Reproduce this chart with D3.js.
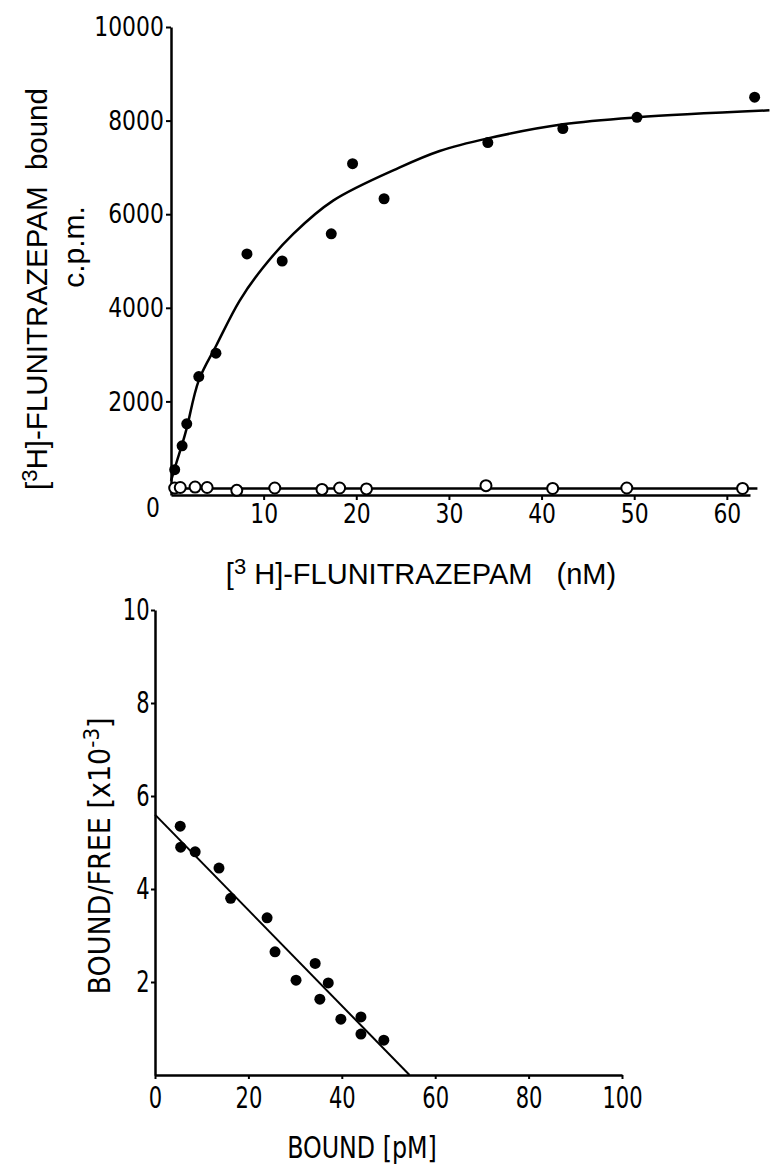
<!DOCTYPE html>
<html>
<head>
<meta charset="utf-8">
<script src="https://cdn.jsdelivr.net/npm/d3@7"></script>
<style>
  body { margin: 0; background: #fff; }
  svg { display: block; }
  text { white-space: pre; }
</style>
</head>
<body>
<div class="box"></div>
<script>
// --- top panel: saturation of [3H]-flunitrazepam binding ---
// total binding (filled dots), nM vs c.p.m.
const totalConc = [0.4, 1.2, 1.7, 3.0, 4.85, 8.2, 12.0, 17.3, 19.6, 23.0, 34.2, 42.3, 50.3, 63.0];
const totalCpm  = [540, 1050, 1520, 2530, 3030, 5150, 5000, 5580, 7080, 6330, 7530, 7830, 8070, 8500];
// hand drawn fit through the filled dots
const fitConc = [0, 0.6, 1.2, 1.7, 3.0, 4.9, 7.4, 9.9, 13.2, 17.5, 24.7, 29.0, 34.2, 42.3, 50.3, 64.6];
const fitCpm  = [300, 700, 1080, 1430, 2450, 3200, 4150, 4850, 5580, 6290, 7000, 7350, 7620, 7920, 8070, 8220];
// non specific binding (open circles)
const nsConc = [0.4, 1.0, 2.6, 3.9, 7.1, 11.2, 16.3, 18.2, 21.1, 34.0, 41.2, 49.2, 61.7];
const nsCpm  = [150, 160, 170, 160, 100, 150, 120, 150, 130, 200, 140, 150, 140];
const nsLineConc = [0, 63.3];
const nsLineCpm  = [140, 140];
const topXTicks = [10, 20, 30, 40, 50, 60];
const topYTicks = [2000, 4000, 6000, 8000, 10000];

// --- bottom panel: Scatchard plot ---
const boundPm   = [5.4, 5.5, 8.6, 13.7, 16.2, 24.0, 25.7, 30.2, 34.3, 37.1, 35.3, 39.8, 44.1, 44.1, 49.0];
const boundFree = [5.35, 4.9, 4.8, 4.45, 3.8, 3.38, 2.65, 2.04, 2.4, 1.98, 1.63, 1.2, 1.25, 0.88, 0.75];
const scatLineX = [0, 54.5];
const scatLineY = [5.6, 0];
const botXTicks = [0, 20, 40, 60, 80, 100];
const botYTicks = [2, 4, 6, 8, 10];

const w = 770;
const h = 1165;
const COND = '"DejaVu Sans Condensed", "DejaVu Sans", sans-serif';
const WIDE = '"Liberation Sans", Arial, sans-serif';

const svg = d3.select(".box")
    .append("svg")
    .attr("width", w)
    .attr("height", h);

// scales
const x1 = d3.scaleLinear().domain([0, 62.5]).range([171, 750]);
const y1 = d3.scaleLinear().domain([0, 10000]).range([495, 27]);
const x2 = d3.scaleLinear().domain([0, 100]).range([155, 622]);
const y2 = d3.scaleLinear().domain([0, 10]).range([1075, 610]);

// axis look: thick black line, narrow digits
function styleAxis(size, squeeze) {
    return function(g) {
        g.select(".domain").attr("stroke", "#000").attr("stroke-width", 2.5);
        g.selectAll(".tick line").attr("stroke", "#000").attr("stroke-width", 2);
        g.selectAll(".tick text")
            .attr("font-family", COND)
            .attr("font-size", size)
            .attr("fill", "#000")
            .attr("transform", "scale(" + squeeze + ",1)");
    };
}

// ---------- top panel ----------
svg.append("g")
    .attr("transform", "translate(0," + y1(0) + ")")
    .call(d3.axisBottom(x1).tickValues(topXTicks).tickFormat(d3.format("d"))
        .tickSize(5).tickSizeOuter(0).tickPadding(4))
    .call(styleAxis(27, 0.9));

svg.append("g")
    .attr("transform", "translate(" + x1(0) + ",0)")
    .call(d3.axisLeft(y1).tickValues(topYTicks).tickFormat(d3.format("d"))
        .tickSize(5).tickSizeOuter(0).tickPadding(3))
    .call(styleAxis(27, 0.9));

// shared origin label
svg.append("text")
    .attr("transform", "translate(" + (x1(0) - 18) + "," + (y1(0) + 22) + ") scale(0.9,1)")
    .attr("text-anchor", "middle")
    .attr("font-family", COND)
    .attr("font-size", 27)
    .text("0");

const lineTop = d3.line()
    .x(d => x1(d[0]))
    .y(d => y1(d[1]))
    .curve(d3.curveCatmullRom);

svg.append("path")
    .datum(d3.zip(fitConc, fitCpm))
    .attr("d", lineTop)
    .attr("fill", "none")
    .attr("stroke", "#000")
    .attr("stroke-width", 2.5);

svg.append("path")
    .datum(d3.zip(nsLineConc, nsLineCpm))
    .attr("d", lineTop)
    .attr("fill", "none")
    .attr("stroke", "#000")
    .attr("stroke-width", 2.5);

svg.selectAll("circle.total")
    .data(d3.zip(totalConc, totalCpm))
    .enter()
    .append("circle")
    .attr("class", "total")
    .attr("cx", d => x1(d[0]))
    .attr("cy", d => y1(d[1]))
    .attr("r", 5.5)
    .attr("fill", "#000");

svg.selectAll("circle.ns")
    .data(d3.zip(nsConc, nsCpm))
    .enter()
    .append("circle")
    .attr("class", "ns")
    .attr("cx", d => x1(d[0]))
    .attr("cy", d => y1(d[1]))
    .attr("r", 5.5)
    .attr("fill", "#fff")
    .attr("stroke", "#000")
    .attr("stroke-width", 2);

// x label top
const xl1 = svg.append("text")
    .attr("x", 421)
    .attr("y", 584)
    .attr("text-anchor", "middle")
    .attr("font-family", WIDE)
    .attr("font-size", 29);
xl1.append("tspan").text("[");
xl1.append("tspan").attr("dy", -10).attr("font-size", 22).text("3");
xl1.append("tspan").attr("dy", 10).text(" H]-FLUNITRAZEPAM   (nM)");

// y label top
const yl1 = svg.append("text")
    .attr("transform", "translate(47,289) rotate(-90)")
    .attr("text-anchor", "middle")
    .attr("font-family", WIDE)
    .attr("font-size", 29.5);
yl1.append("tspan").text("[");
yl1.append("tspan").attr("dy", -10).attr("font-size", 22).text("3");
yl1.append("tspan").attr("dy", 10).text("H]-FLUNITRAZEPAM  bound");

svg.append("text")
    .attr("transform", "translate(84,247) rotate(-90)")
    .attr("text-anchor", "middle")
    .attr("font-family", WIDE)
    .attr("font-size", 30)
    .text("c.p.m.");

// ---------- bottom panel ----------
svg.append("g")
    .attr("transform", "translate(0," + y2(0) + ")")
    .call(d3.axisBottom(x2).tickValues(botXTicks).tickSize(4).tickSizeOuter(0).tickPadding(8))
    .call(styleAxis(30, 0.78));

svg.append("g")
    .attr("transform", "translate(" + x2(0) + ",0)")
    .call(d3.axisLeft(y2).tickValues(botYTicks).tickSize(4).tickSizeOuter(0).tickPadding(3))
    .call(styleAxis(30, 0.78));

const lineBot = d3.line()
    .x(d => x2(d[0]))
    .y(d => y2(d[1]));

svg.append("path")
    .datum(d3.zip(scatLineX, scatLineY))
    .attr("d", lineBot)
    .attr("fill", "none")
    .attr("stroke", "#000")
    .attr("stroke-width", 2);

svg.selectAll("circle.scat")
    .data(d3.zip(boundPm, boundFree))
    .enter()
    .append("circle")
    .attr("class", "scat")
    .attr("cx", d => x2(d[0]))
    .attr("cy", d => y2(d[1]))
    .attr("r", 5.5)
    .attr("fill", "#000");

svg.append("text")
    .attr("transform", "translate(362,1158) scale(0.88,1)")
    .attr("text-anchor", "middle")
    .attr("font-family", COND)
    .attr("font-size", 30)
    .text("BOUND [pM]");

const yl2 = svg.append("text")
    .attr("transform", "translate(110,856) rotate(-90)")
    .attr("text-anchor", "middle")
    .attr("font-family", COND)
    .attr("font-size", 30);
yl2.append("tspan").text("BOUND/FREE [x10");
yl2.append("tspan").attr("dy", -11).attr("font-size", 22).text("-3");
yl2.append("tspan").attr("dy", 11).text("]");
</script>
</body>
</html>
